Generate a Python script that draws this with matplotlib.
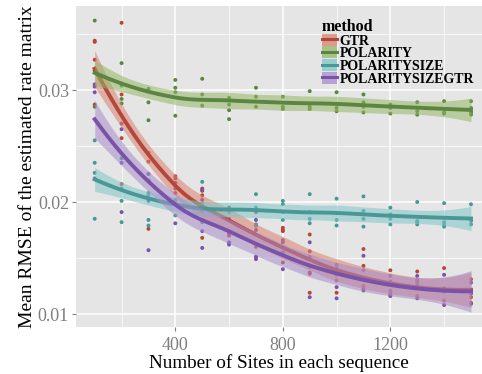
import numpy as np
import matplotlib
matplotlib.use('Agg')
import matplotlib.pyplot as plt
from matplotlib.patches import Patch
from matplotlib.lines import Line2D

plt.rcParams['font.family'] = ['Liberation Serif', 'DejaVu Serif']

sites = [100, 200, 300, 400, 500, 600, 700, 800, 900, 1000, 1100, 1200, 1300, 1400, 1500]

# replicate values read per site, one inner list per x
gtr = [
    [0.0344, 0.0343, 0.0327, 0.0317, 0.0287],
    [0.0360, 0.0296, 0.0257, 0.0216],
    [0.0244, 0.0236, 0.0219, 0.0176],
    [0.0223, 0.0221, 0.0217, 0.0208, 0.0198],
    [0.0212, 0.0210, 0.0206, 0.0192, 0.0168],
    [0.0195, 0.0174, 0.0172, 0.0170],
    [0.0192, 0.0191, 0.0179, 0.0160, 0.0151],
    [0.0177, 0.0175, 0.0174, 0.0146],
    [0.0171, 0.0156, 0.0137, 0.0136, 0.0119],
    [0.0144, 0.0136, 0.0130, 0.0119],
    [0.0158, 0.0143, 0.0125, 0.0123],
    [0.0139, 0.0129, 0.0119, 0.0117],
    [0.0138, 0.0129, 0.0127, 0.0116],
    [0.0141, 0.0123, 0.0120, 0.0112],
    [0.0131, 0.0121, 0.0120, 0.0115, 0.0110],
]
polarity = [
    [0.0362, 0.0318, 0.0285],
    [0.0324, 0.0304, 0.0292, 0.0288],
    [0.0301, 0.0289, 0.0273],
    [0.0309, 0.0302, 0.0298, 0.0277],
    [0.0310, 0.0296, 0.0286],
    [0.0293, 0.0287, 0.0282, 0.0274],
    [0.0302, 0.0294, 0.0285],
    [0.0294, 0.0285, 0.0283],
    [0.0299, 0.0285, 0.0283],
    [0.0298, 0.0284, 0.0281],
    [0.0296, 0.0289, 0.0285, 0.0280],
    [0.0287, 0.0284, 0.0279],
    [0.0289, 0.0281, 0.0278],
    [0.0290, 0.0280, 0.0279],
    [0.0290, 0.0284, 0.0280, 0.0278],
]
polaritysize = [
    [0.0255, 0.0235, 0.0226, 0.0185],
    [0.0239, 0.0212, 0.0201, 0.0182],
    [0.0208, 0.0206, 0.0184, 0.0179],
    [0.0202, 0.0201, 0.0188],
    [0.0218, 0.0199, 0.0182],
    [0.0194, 0.0193, 0.0191],
    [0.0207, 0.0195, 0.0180, 0.0179],
    [0.0201, 0.0198, 0.0191, 0.0184],
    [0.0207, 0.0191, 0.0185, 0.0181],
    [0.0203, 0.0190, 0.0184, 0.0179],
    [0.0205, 0.0192, 0.0185, 0.0178],
    [0.0195, 0.0189, 0.0185, 0.0180],
    [0.0200, 0.0183, 0.0182, 0.0180],
    [0.0199, 0.0182, 0.0180, 0.0178],
    [0.0198, 0.0184, 0.0183, 0.0180],
]
polaritysizegtr = [
    [0.0305, 0.0303, 0.0298, 0.0221],
    [0.0270, 0.0265, 0.0235, 0.0191],
    [0.0225, 0.0219, 0.0201, 0.0157],
    [0.0217, 0.0212, 0.0198, 0.0181],
    [0.0211, 0.0202, 0.0174, 0.0159],
    [0.0185, 0.0164, 0.0163, 0.0162],
    [0.0184, 0.0175, 0.0151, 0.0149],
    [0.0166, 0.0164, 0.0155, 0.0140],
    [0.0164, 0.0151, 0.0142, 0.0115],
    [0.0141, 0.0135, 0.0124, 0.0114],
    [0.0152, 0.0139, 0.0121],
    [0.0134, 0.0121, 0.0116],
    [0.0134, 0.0130, 0.0125, 0.0114],
    [0.0135, 0.0121, 0.0108],
    [0.0128, 0.0118, 0.0109],
]

methods = ['GTR', 'POLARITY', 'POLARITYSIZE', 'POLARITYSIZEGTR']
values = [gtr, polarity, polaritysize, polaritysizegtr]
line_colors = ['#B5473A', '#5B8540', '#4A9797', '#7A52A8']
fill_colors = ['#D9826F', '#94B866', '#7DC6C6', '#A88DCB']


def flatten(rows):
    xs, ys = [], []
    for s, vals in zip(sites, rows):
        xs += [s] * len(vals)
        ys += vals
    return np.array(xs, float), np.array(ys, float)


def local_rows(x, x0, q):
    # operator rows for value and slope of a tricube-weighted local quadratic
    d = np.abs(x - x0)
    h = np.sort(d)[q - 1]
    w = (1 - np.clip(d / h, 0, 1) ** 3) ** 3
    X = np.column_stack([np.ones(len(x)), x - x0, (x - x0) ** 2])
    XtW = X.T * w
    B = np.linalg.solve(XtW @ X, XtW)
    return B[0], B[1]


def kd_vertices(x, fc):
    xs = np.sort(x)
    verts = [xs[0], xs[-1]]

    def split(pts, lo, hi):
        if len(pts) <= fc:
            return
        m = (len(pts) + 1) // 2 - 1
        t = (pts[m] + pts[m + 1]) / 2
        if t <= lo or t >= hi:
            return
        verts.append(t)
        split(pts[:m + 1], lo, t)
        split(pts[m + 1:], t, hi)

    split(xs, xs[0], xs[-1])
    return np.unique(verts)


def loess(x, y, grid, span=0.75):
    # loess with kd-tree vertices and cubic hermite interpolation (R default surface)
    x = x / 1000.0
    grid = grid / 1000.0
    n = len(x)
    q = int(np.floor(n * span))
    verts = kd_vertices(x, int(np.floor(n * span * 0.2)))
    V0, V1 = zip(*[local_rows(x, v, q) for v in verts])
    V0, V1 = np.array(V0), np.array(V1)

    def interp(pts):
        out = []
        for p in pts:
            k = min(np.searchsorted(verts, p, side='right') - 1, len(verts) - 2)
            a, b = verts[k], verts[k + 1]
            dx = b - a
            t = (p - a) / dx
            h00 = 2 * t ** 3 - 3 * t ** 2 + 1
            h10 = t ** 3 - 2 * t ** 2 + t
            h01 = -2 * t ** 3 + 3 * t ** 2
            h11 = t ** 3 - t ** 2
            out.append(h00 * V0[k] + h10 * dx * V1[k] + h01 * V0[k + 1] + h11 * dx * V1[k + 1])
        return np.array(out)

    L = interp(x)
    Lg = interp(grid)
    M = np.eye(n) - L
    sigma = np.sqrt(np.sum((M @ y) ** 2) / np.trace(M.T @ M))
    se = sigma * np.sqrt(np.sum(Lg ** 2, axis=1))
    return Lg @ y, se


fig = plt.figure(figsize=(4.82, 3.74), dpi=100)
ax = fig.add_axes([76 / 482, 47 / 374, 406 / 482, 321 / 374])
ax.set_facecolor('#E5E5E5')
for sp in ax.spines.values():
    sp.set_visible(False)

grid_x = np.linspace(min(sites), max(sites), 80)

for vals, lc in zip(values, line_colors):
    x, y = flatten(vals)
    ax.scatter(x, y, s=8, color=lc, edgecolors='none', zorder=2)

for vals, lc, fc in zip(values, line_colors, fill_colors):
    x, y = flatten(vals)
    fit, se = loess(x, y, grid_x)
    ax.fill_between(grid_x, fit - 2.0 * se, fit + 2.0 * se, color=fc, alpha=0.55,
                    linewidth=0, zorder=3)
    ax.plot(grid_x, fit, color=lc, lw=2.8, zorder=3)

ax.set_xlim(30.4, 1541)
ax.set_ylim(0.00884, 0.0375)
ax.set_xticks([400, 800, 1200])
ax.set_xticks([200, 600, 1000, 1400], minor=True)
ax.set_yticks([0.01, 0.02, 0.03])
ax.set_yticklabels(['0.01', '0.02', '0.03'])
ax.set_yticks([0.015, 0.025, 0.035], minor=True)
ax.grid(which='major', color='white', lw=1.1, zorder=0)
ax.grid(which='minor', color='white', lw=0.5, zorder=0)
ax.set_axisbelow(True)
ax.tick_params(which='major', length=3, color='#7F7F7F', labelcolor='#7F7F7F',
               labelsize=13, pad=2)
ax.tick_params(axis='x', pad=4)
ax.tick_params(which='minor', length=0)

ax.set_xlabel('Number of Sites in each sequence', fontsize=13.8, labelpad=0)
ax.set_ylabel('Mean RMSE of the estimated rate matrix', fontsize=14, labelpad=1)

handles = [(Patch(facecolor=fc, alpha=0.75, edgecolor='none'), Line2D([], [], color=lc, lw=2.2))
           for lc, fc in zip(line_colors, fill_colors)]
leg = ax.legend(handles, methods, title='method', loc='upper left',
                bbox_to_anchor=(315 / 482, 1 - 12 / 374), bbox_transform=fig.transFigure,
                frameon=False, borderpad=0, handlelength=1.05, handleheight=0.95,
                handletextpad=0.2, labelspacing=-0.08, alignment='left',
                prop={'weight': 'bold', 'size': 10},
                title_fontproperties={'weight': 'bold', 'size': 11.5})

fig.savefig('out.png', dpi=100)
